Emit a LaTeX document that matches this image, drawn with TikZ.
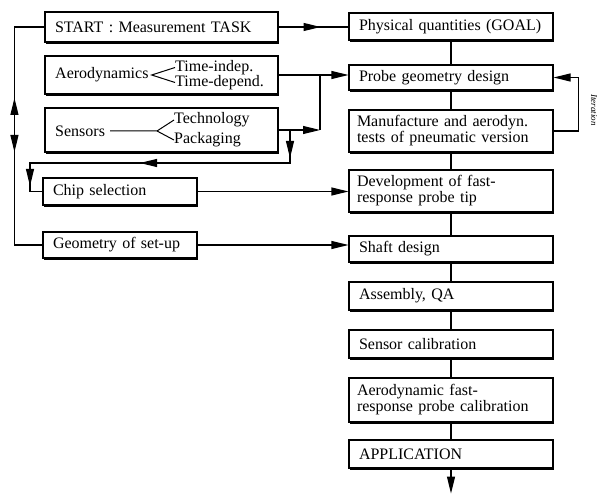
\documentclass[tikz,border=0pt]{standalone}
\usepackage{fontspec}
\setmainfont{Liberation Serif}
\usetikzlibrary{arrows.meta, shadows, decorations.markings}

\tikzset{
  box/.style={draw, line width=1.1pt, fill=white, inner xsep=8pt, inner ysep=0pt, align=left,
    drop shadow={shadow xshift=1.2pt, shadow yshift=-1.6pt, opacity=1, fill=black}},
  rbox/.style={box, text width=188pt, minimum height=#1},
  lbox/.style={box, text width=217pt, minimum height=#1},
  sbox/.style={box, text width=138pt, minimum height=#1},
  lbl/.style={inner sep=0pt, anchor=west},
  link/.style={line width=1.1pt},
  midarr/.style={postaction={decorate, decoration={markings, mark=at position #1 with {\arrow{>}}}}},
  midrev/.style={postaction={decorate, decoration={markings, mark=at position #1 with {\arrowreversed{>}}}}},
}

\begin{document}
\begin{tikzpicture}[x=1pt, y=-1pt, >={Triangle[length=17pt,width=8pt]},
  every node/.append style={font=\fontsize{16}{16}\selectfont}]
\useasboundingbox (0,0) rectangle (601,494);

% Left column
\node[lbox=30] (start) at (161.5,27) {\hspace{2pt}START : Measurement TASK};
\node[lbox=38] (aero) at (161.5,75) {};
\node[lbox=44] (sens) at (161.5,130) {};
\node[sbox=27] (chip) at (120,191.5) {\hspace{2pt}Chip selection};
\node[sbox=26] (geo) at (120,245) {\hspace{2pt}Geometry of set-up};

% Aerodynamics branches
\node[lbl] (aerot) at (55,75) {Aerodynamics};
\node[lbl] (tind) at (175,67.5) {Time-indep.};
\node[lbl] (tdep) at (175,82.5) {Time-depend.};
\draw[line width=1pt] (tind.west) -- ([xshift=3pt]aerot.east) -- (tdep.west);

% Sensors branches
\node[lbl] (sent) at (55,131) {Sensors};
\node[lbl] (tech) at (174,120) {Technology};
\node[lbl] (pack) at (174,140) {Packaging};
\coordinate (fork) at (157,131);
\draw[line width=1pt] ([xshift=5pt]sent.east) -- (fork) -- (tech.west);
\draw[line width=1pt] (fork) -- (pack.west);

% Right column
\node[rbox=27] (goal) at (451,26.5) {\hspace{2pt}Physical quantities (GOAL)};
\node[rbox=25] (probe) at (451,77.5) {\hspace{2pt}Probe geometry design};
\node[rbox=42] (manu) at (451,131) {Manufacture and aerodyn.\\tests of pneumatic version};
\node[rbox=42] (dev) at (451,191) {Development of fast-\\response probe tip};
\node[rbox=26] (shaft) at (451,249) {\hspace{2pt}Shaft design};
\node[rbox=28] (asm) at (451,296) {\hspace{2pt}Assembly, QA};
\node[rbox=28] (scal) at (451,344) {\hspace{2pt}Sensor calibration};
\node[rbox=44] (acal) at (451,400) {Aerodynamic fast-\\response probe calibration};
\node[rbox=28] (app) at (451,454) {\hspace{2pt}APPLICATION};

% Main chain
\draw[link] (goal) -- (probe) -- (manu) -- (dev) -- (shaft) -- (asm) -- (scal) -- (acal) -- (app);
\draw[link, ->] (app.south) -- ++(0,25);

% Feeds into the chain
\draw[link, midarr=42pt] (start.east) -- (start.east -| goal.west);
\coordinate (jn) at (320,75);
\draw[link, ->] (aero.east) -- (aero.east -| probe.west);
\draw[link] (jn) -- (jn |- sens.east);
\draw[link, ->] (sens.east) -- (sens.east -| jn);
\coordinate (sb) at (290,130);
\draw[link, midarr=28pt, midarr=183pt, midarr=316pt] (sb) -- ++(0,33) -- ++(-260,0) |- (chip.west);
\draw[link, ->] (chip.east) -- (chip.east -| dev.west);
\draw[link, ->] (geo.east) -- (geo.east -| shaft.west);

% Left loop
\draw[link, midrev=101pt, midarr=155pt] (start.west) -- ++(-30,0) |- (geo.west);

% Iteration loop
\draw[link, ->] (manu.east) -- ++(25,0) |- (probe.east);
\node[font=\fontsize{9}{9}\selectfont\itshape, rotate=-90] (iter) at (594,110) {Iteration};
\end{tikzpicture}
\end{document}
